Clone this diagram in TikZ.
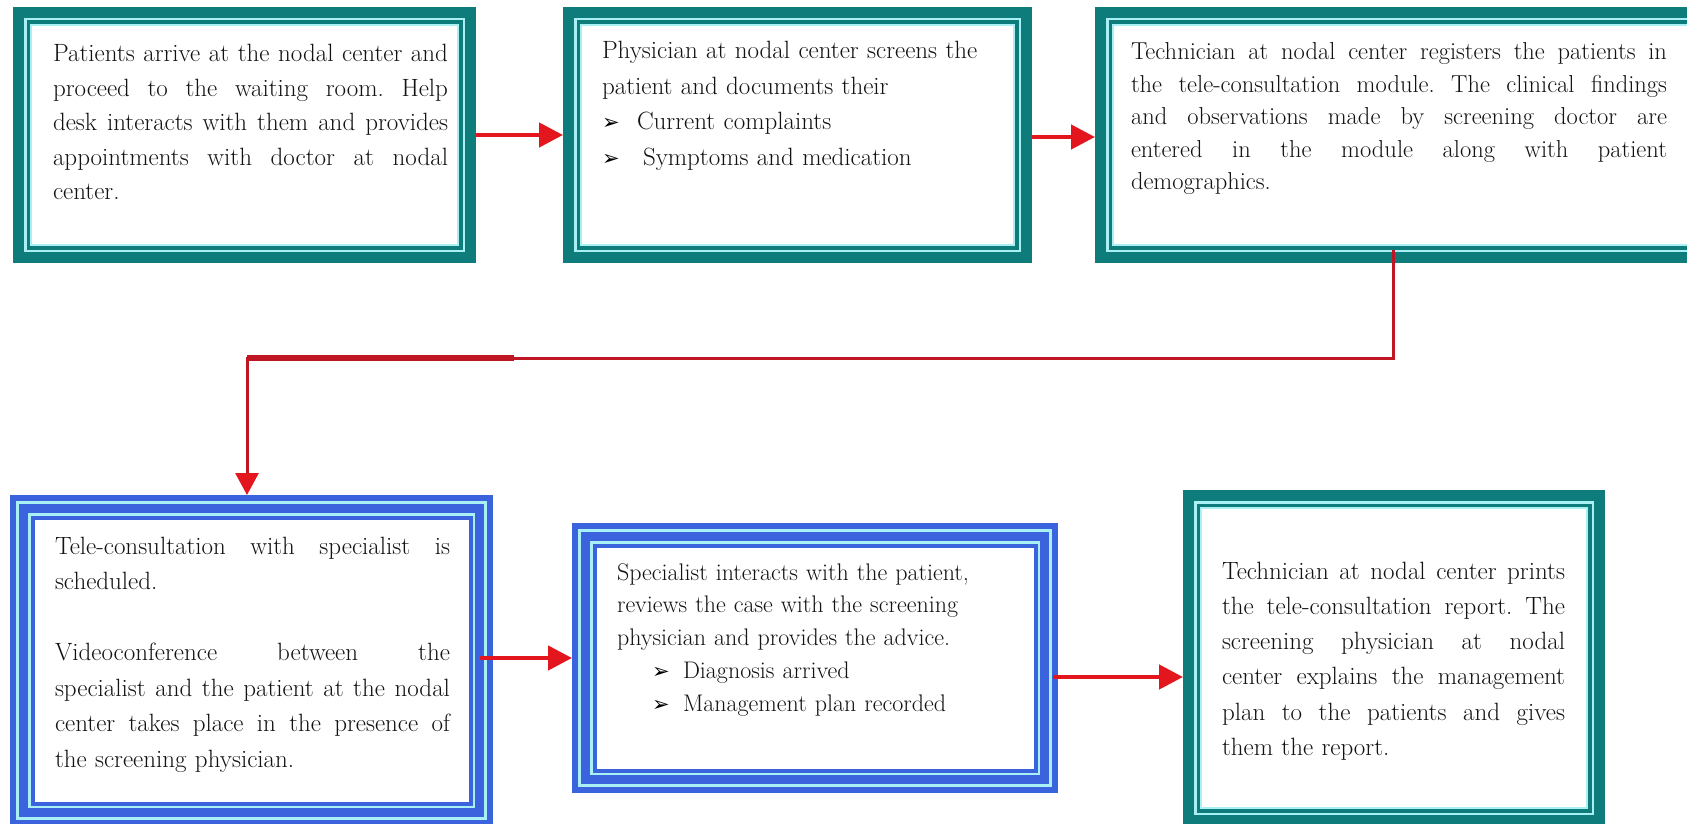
\documentclass[tikz,border=0pt]{standalone}
\usepackage{fontspec}
\usetikzlibrary{arrows.meta,calc}
\newfontfamily\dingfont{DejaVu Sans}

\definecolor{frameteal}{RGB}{14,124,123}
\definecolor{frameblue}{RGB}{59,99,222}
\definecolor{framecyan}{RGB}{168,240,244}
\definecolor{arrowred}{RGB}{226,22,28}
\definecolor{linkred}{RGB}{190,22,34}
\definecolor{inktext}{RGB}{18,18,18}

% one justified line, spread over the current block width \jw
\newlength\jw
\newcommand\jl[1]{\leavevmode\hbox to \jw{\spaceskip=0.3em plus 1fil\relax\xspaceskip=\spaceskip #1}}
% arrowhead bullet
\newcommand\bul{{\dingfont\fontsize{21}{21}\selectfont\color{black}➢}}

% teal frame: thick band, light line, thin band, light line
\newcommand\tealframe[1]{%
  \fill[frameteal] (#1.north west) rectangle (#1.south east);
  \fill[framecyan] ($(#1.north west)+(11,11)$) rectangle ($(#1.south east)+(-11,-11)$);
  \fill[frameteal] ($(#1.north west)+(13.5,13.5)$) rectangle ($(#1.south east)+(-13.5,-13.5)$);
  \fill[framecyan] ($(#1.north west)+(17,17)$) rectangle ($(#1.south east)+(-17,-17)$);
  \fill[white] ($(#1.north west)+(19,19)$) rectangle ($(#1.south east)+(-19,-19)$);}

% blue frame: three bands separated by light lines
\newcommand\blueframe[1]{%
  \fill[frameblue] (#1.north west) rectangle (#1.south east);
  \fill[framecyan] ($(#1.north west)+(6,6)$) rectangle ($(#1.south east)+(-6,-6)$);
  \fill[frameblue] ($(#1.north west)+(9,9)$) rectangle ($(#1.south east)+(-9,-9)$);
  \fill[framecyan] ($(#1.north west)+(18,18)$) rectangle ($(#1.south east)+(-18,-18)$);
  \fill[frameblue] ($(#1.north west)+(20.5,20.5)$) rectangle ($(#1.south east)+(-20.5,-20.5)$);
  \fill[white] ($(#1.north west)+(24.5,24.5)$) rectangle ($(#1.south east)+(-24.5,-24.5)$);}

\begin{document}
\begin{tikzpicture}[x=1pt, y=-1pt,
  panel/.style={draw=none, inner sep=0pt, outer sep=0pt},
  txt/.style={anchor=base west, inner sep=0pt, outer sep=0pt, text=inktext, align=left},
  arr/.style={draw=arrowred, line width=4.5pt, -{Triangle[length=24pt,width=24pt]}},
  link/.style={draw=linkred, line width=3pt}]

\clip (0,0) rectangle (1687,824);
\fill[white] (0,0) rectangle (1687,824);

% panels
\node[panel, minimum width=463pt, minimum height=256pt] (b1) at (244.5,135) {};
\node[panel, minimum width=469pt, minimum height=256pt] (b2) at (797.5,135) {};
\node[panel, minimum width=625pt, minimum height=256pt] (b3) at (1407.5,135) {};
\node[panel, minimum width=483pt, minimum height=331pt] (b4) at (251.5,660.5) {};
\node[panel, minimum width=486pt, minimum height=270pt] (b5) at (815,658) {};
\node[panel, minimum width=422pt, minimum height=336pt] (b6) at (1394,658) {};

\tealframe{b1}
\tealframe{b2}
\tealframe{b3}
\blueframe{b4}
\blueframe{b5}
\tealframe{b6}

% texts
\node[txt, text width=395pt, font={\fontsize{25}{34.5}\selectfont\frenchspacing\setlength\jw{395pt}}] (t1) at (53,62) {%
\jl{Patients arrive at the nodal center and}\\
\jl{proceed to the waiting room. Help}\\
\jl{desk interacts with them and provides}\\
\jl{appointments with doctor at nodal}\\
center.};

\node[txt, text width=420pt, font={\fontsize{25}{35.5}\selectfont\frenchspacing}] (t2) at (602,59) {%
Physician at nodal center screens the\\
patient and documents their\\
\makebox[35pt][l]{\bul}Current complaints\\
\makebox[41pt][l]{\bul}Symptoms and medication};

\node[txt, text width=536pt, font={\fontsize{24.5}{32.5}\selectfont\frenchspacing\setlength\jw{536pt}}] (t3) at (1131,60) {%
\jl{Technician at nodal center registers the patients in}\\
\jl{the tele-consultation module. The clinical findings}\\
\jl{and observations made by screening doctor are}\\
\jl{entered in the module along with patient}\\
demographics.};

\node[txt, text width=395pt, font={\fontsize{25}{35.5}\selectfont\frenchspacing\setlength\jw{395pt}}] (t4) at (55,554) {%
\jl{Tele-consultation with specialist is}\\
scheduled.\\[35.5pt]
\jl{Videoconference between the}\\
\jl{specialist and the patient at the nodal}\\
\jl{center takes place in the presence of}\\
the screening physician.};

\node[txt, text width=420pt, font={\fontsize{24}{32.8}\selectfont\frenchspacing}] (t5) at (617,580) {%
Specialist interacts with the patient,\\
reviews the case with the screening\\
physician and provides the advice.\\
\hspace*{35pt}\makebox[31pt][l]{\bul}Diagnosis arrived\\
\hspace*{35pt}\makebox[31pt][l]{\bul}Management plan recorded};

\node[txt, text width=343pt, font={\fontsize{25}{35.3}\selectfont\frenchspacing\setlength\jw{343pt}}] (t6) at (1222,579) {%
\jl{Technician at nodal center prints}\\
\jl{the tele-consultation report. The}\\
\jl{screening physician at nodal}\\
\jl{center explains the management}\\
\jl{plan to the patients and gives}\\
them the report.};

% arrows along the top row
\draw[arr] (b1.east) -- (b2.west);
\coordinate (a2) at ($(b2.east)+(0,2)$);
\draw[arr] (a2) -- (a2 -| b3.west);

% link from the third panel down to the second row
\coordinate (k1) at (1393,358);
\coordinate (k2) at (247,358);
\coordinate (k3) at (514,358);
\draw[link, -{Triangle[length=22pt,width=23pt,color=arrowred]}]
  ($(k1 |- b3.south)+(0,-13)$) -- (k1) -- (k2) -- (k2 |- b4.north);
\draw[draw=linkred, line width=5.5pt] (k2) -- (k3);

% arrows along the bottom row
\coordinate (a4) at ($(b4.east)+(-13,-2.5)$);
\draw[arr] (a4) -- (a4 -| b5.west);
\coordinate (a5) at ($(b5.east)+(-5,19)$);
\draw[arr] (a5) -- (a5 -| b6.west);

\end{tikzpicture}
\end{document}
